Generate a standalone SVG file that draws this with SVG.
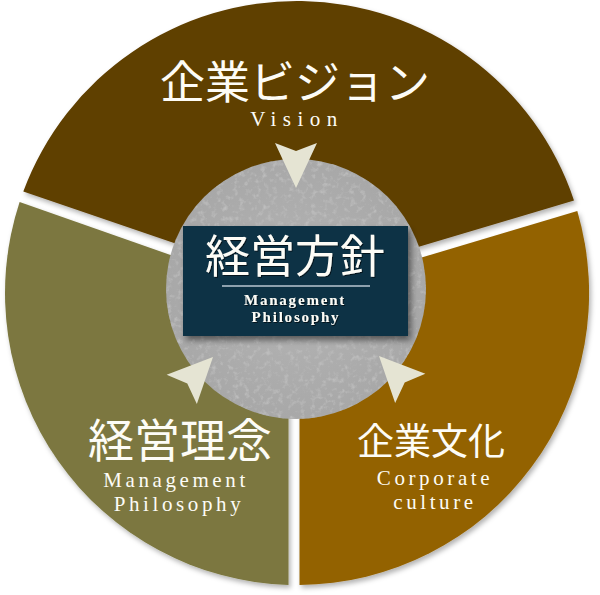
<svg xmlns="http://www.w3.org/2000/svg" width="600" height="595" viewBox="0 0 600 595">
  <style>
    .jp { font-family: "Liberation Serif", "Noto Sans CJK JP", serif; fill: #fdfcf6; text-anchor: middle; }
    .en { font-family: "Liberation Serif", "Noto Serif", serif; fill: #fdfcf6; text-anchor: middle; }
    .arrow { fill: #e5e4d3; }
  </style>
  <defs>
    <filter id="shadow" x="-10%" y="-10%" width="120%" height="120%">
      <feDropShadow dx="2" dy="3" stdDeviation="2.5" flood-color="#000" flood-opacity="0.3"/>
    </filter>
    <filter id="boxShadow" x="-10%" y="-10%" width="125%" height="130%">
      <feDropShadow dx="3" dy="4" stdDeviation="3" flood-color="#000" flood-opacity="0.5"/>
    </filter>
    <filter id="txtShadow" x="-10%" y="-20%" width="120%" height="140%">
      <feDropShadow dx="1" dy="1" stdDeviation="0.6" flood-color="#000" flood-opacity="0.6"/>
    </filter>
    <filter id="tex" x="0" y="0" width="100%" height="100%">
      <feTurbulence type="fractalNoise" baseFrequency="0.18" numOctaves="3" seed="7" result="n"/>
      <feColorMatrix in="n" type="matrix" values="0 0 0 0 0.52  0 0 0 0 0.52  0 0 0 0 0.52  0 0 0 2.6 -1.35" result="c"/>
      <feComposite in="c" in2="SourceGraphic" operator="in" result="t"/>
      <feMerge><feMergeNode in="SourceGraphic"/><feMergeNode in="t"/></feMerge>
    </filter>
    <radialGradient id="gray" cx="0.5" cy="0.5" r="0.5">
      <stop offset="0" stop-color="#b5b5b5"/>
      <stop offset="1" stop-color="#a8a8a8"/>
    </radialGradient>
    <path id="arrowShape" d="M0,0 L-21,-45 L0,-37 L21,-45 Z"/>
  </defs>

  <g id="node-vision">
    <path d="M294,284 L23.3,191.5 A292,292 0 0 1 574,200.4 Z" fill="#5f3f00" filter="url(#shadow)"/>
    <text class="jp" x="295" y="99" font-size="45">企業ビジョン</text>
    <text class="en" x="297" y="126" font-size="21" letter-spacing="6.5">Vision</text>
  </g>

  <g id="node-philosophy">
    <path d="M288.5,296.5 L19.6,201.9 A292,292 0 0 0 288.5,584.9 Z" fill="#7b773f" filter="url(#shadow)"/>
    <text class="jp" x="180" y="457" font-size="46">経営理念</text>
    <text class="en" font-size="21" letter-spacing="3.6"><tspan x="176" y="487">Management</tspan><tspan x="179" y="510.5">Philosophy</tspan></text>
  </g>

  <g id="node-culture">
    <path d="M299.5,294.1 L299.5,585 A292,292 0 0 0 577.3,210.9 Z" fill="#936200" filter="url(#shadow)"/>
    <text class="jp" x="431" y="455" font-size="37">企業文化</text>
    <text class="en" font-size="21" letter-spacing="3.6"><tspan x="435" y="485">Corporate</tspan><tspan x="435" y="508.5">culture</tspan></text>
  </g>

  <g id="node-center">
    <circle cx="296" cy="289" r="130" fill="url(#gray)" filter="url(#tex)"/>
    <rect x="183" y="226" width="225" height="110" fill="#0c3245" filter="url(#boxShadow)"/>
    <text class="jp" x="295" y="273" font-size="45" filter="url(#txtShadow)">経営方針</text>
    <line x1="222" y1="286" x2="370" y2="286" stroke="#8ea1ae" stroke-width="2"/>
    <text class="en" font-size="15" font-weight="bold" letter-spacing="1.8" filter="url(#txtShadow)"><tspan x="295" y="305">Management</tspan><tspan x="296" y="322">Philosophy</tspan></text>
  </g>

  <g id="connectors">
    <use href="#arrowShape" class="arrow" transform="translate(296,188)"/>
    <use href="#arrowShape" class="arrow" transform="translate(213,357) rotate(-136)"/>
    <use href="#arrowShape" class="arrow" transform="translate(379,356) rotate(136)"/>
  </g>
</svg>
